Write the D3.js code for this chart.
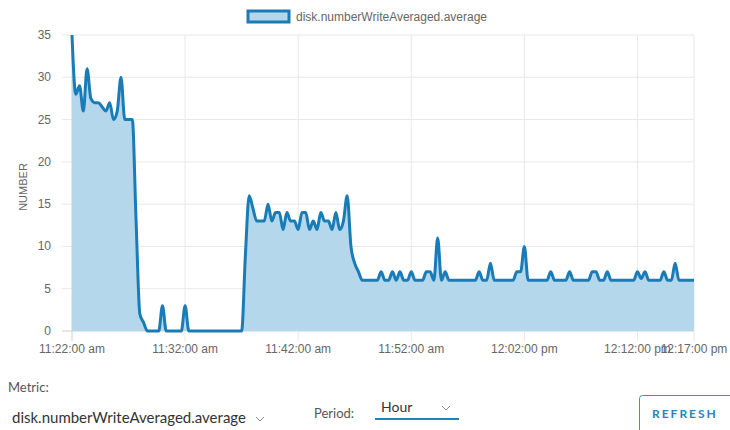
<!DOCTYPE html>
<meta charset="utf-8">
<style>
body{
  margin: 0;
  background-color: white;
}
text{
  font-family: "Liberation Sans", Arial, sans-serif;
}
.ui{
  font-family: "Lato", "Open Sans", sans-serif;
}
</style>
<body>
<svg class="chart"></svg>
<script src="https://cdn.jsdelivr.net/npm/d3@7"></script>
<script>
// series: one sample every 20 seconds from 11:22:00 to 12:17:00
var seriesName = "disk.numberWriteAveraged.average";
var startTime = new Date(2020, 0, 1, 11, 22, 0);
var endTime = new Date(2020, 0, 1, 12, 17, 0);
var stepSeconds = 20;

var values = [
  35, 28, 29, 26, 31, 27.5, 27, 27, 26.5, 26, 27, 25, 26, 30, 25, 25, 25, 13, 2, 1,
  0, 0, 0, 0, 3, 0, 0, 0, 0, 0, 3, 0, 0, 0, 0, 0, 0, 0, 0, 0,
  0, 0, 0, 0, 0, 0, 9, 16, 14.5, 13, 13, 13, 15, 13, 14, 14, 12, 14, 13, 13,
  12, 14, 14, 12, 13, 12, 14, 13, 13, 12, 14, 12, 13, 16, 10, 8, 7, 6, 6, 6,
  6, 6, 7, 6, 6, 7, 6, 7, 6, 6, 7, 6, 6, 6, 7, 7, 6, 11, 6, 7,
  6, 6, 6, 6, 6, 6, 6, 6, 7, 6, 6, 8, 6, 6, 6, 6, 6, 6, 7, 7,
  10, 6, 6, 6, 6, 6, 6, 7, 6, 6, 6, 6, 7, 6, 6, 6, 6, 6, 7, 7,
  6, 6, 7, 6, 6, 6, 6, 6, 6, 6, 7, 6.2, 7, 6, 6, 6, 6, 7, 6, 6,
  8, 6, 6, 6, 6, 6
];

// axis ticks
var yTicks = [0, 5, 10, 15, 20, 25, 30, 35];
var xTickTimes = [
  new Date(2020, 0, 1, 11, 22, 0),
  new Date(2020, 0, 1, 11, 32, 0),
  new Date(2020, 0, 1, 11, 42, 0),
  new Date(2020, 0, 1, 11, 52, 0),
  new Date(2020, 0, 1, 12, 2, 0),
  new Date(2020, 0, 1, 12, 12, 0),
  new Date(2020, 0, 1, 12, 17, 0)
];
var xTickLabels = ["11:22:00 am", "11:32:00 am", "11:42:00 am", "11:52:00 am",
  "12:02:00 pm", "12:12:00 pm", "12:17:00 pm"];

var data = values.map(function (v, i) {
  return {t: new Date(startTime.getTime() + i * stepSeconds * 1000), v: v};
});

var w = 730, h = 430;
var plotLeft = 72, plotRight = 694, plotTop = 35, plotBottom = 331;

var svg = d3.select('svg').attr('width', w).attr('height', h);

var x = d3.scaleTime().domain([startTime, endTime]).range([plotLeft, plotRight]);
var y = d3.scaleLinear().domain([0, 35]).range([plotBottom, plotTop]);

var lineColor = "#1a7cb6";
var fillColor = "#b4d7eb";
var gridColor = "#e8e8e8";
var textColor = "#666";

// grid lines
svg.append("g").selectAll("line")
  .data(yTicks)
  .enter()
  .append("line")
  .attr("x1", plotLeft - 10)
  .attr("x2", plotRight)
  .attr("y1", function (d) { return y(d); })
  .attr("y2", function (d) { return y(d); })
  .attr("stroke", function (d) { return d == 0 ? "#cfcfcf" : gridColor; });

svg.append("g").selectAll("line")
  .data(xTickTimes)
  .enter()
  .append("line")
  .attr("x1", function (d) { return x(d); })
  .attr("x2", function (d) { return x(d); })
  .attr("y1", plotTop)
  .attr("y2", plotBottom + 10)
  .attr("stroke", function (d, i) { return i == 0 ? "#cfcfcf" : gridColor; });

// area + line
var area = d3.area()
  .x(function (d) { return x(d.t); })
  .y0(y(0))
  .y1(function (d) { return y(d.v); })
  .curve(d3.curveMonotoneX);

var line = d3.line()
  .x(function (d) { return x(d.t); })
  .y(function (d) { return y(d.v); })
  .curve(d3.curveMonotoneX);

svg.append("path")
  .datum(data)
  .attr("d", area)
  .attr("fill", fillColor);

svg.append("path")
  .datum(data)
  .attr("d", line)
  .attr("fill", "none")
  .attr("stroke", lineColor)
  .attr("stroke-width", 3)
  .attr("stroke-linejoin", "round");

// y tick labels
svg.append("g").selectAll("text")
  .data(yTicks)
  .enter()
  .append("text")
  .attr("x", 51)
  .attr("y", function (d) { return y(d) + 4; })
  .attr("text-anchor", "end")
  .attr("font-size", "12px")
  .attr("fill", textColor)
  .text(function (d) { return d; });

// x tick labels
svg.append("g").selectAll("text")
  .data(xTickTimes)
  .enter()
  .append("text")
  .attr("x", function (d) { return x(d); })
  .attr("y", 353)
  .attr("text-anchor", "middle")
  .attr("font-size", "12px")
  .attr("fill", textColor)
  .text(function (d, i) { return xTickLabels[i]; });

// y axis title
svg.append("text")
  .attr("transform", "translate(27," + ((plotTop + plotBottom) / 2 + 4) + ") rotate(-90)")
  .attr("text-anchor", "middle")
  .attr("font-size", "11px")
  .attr("fill", textColor)
  .text("NUMBER");

// legend
svg.append("rect")
  .attr("x", 248)
  .attr("y", 11)
  .attr("width", 41)
  .attr("height", 11)
  .attr("fill", fillColor)
  .attr("stroke", lineColor)
  .attr("stroke-width", 3);
svg.append("text")
  .attr("x", 296)
  .attr("y", 21)
  .attr("font-size", "12px")
  .attr("fill", textColor)
  .text(seriesName);

// controls under the chart
function chevron (cx, cy) {
  svg.append("path")
    .attr("d", "M" + (cx - 4) + "," + (cy - 2) + "L" + cx + "," + (cy + 2) + "L" + (cx + 4) + "," + (cy - 2))
    .attr("fill", "none")
    .attr("stroke", "#8a8a8a")
    .attr("stroke-width", 1);
}

svg.append("text")
  .attr("class", "ui")
  .attr("x", 8)
  .attr("y", 392)
  .attr("font-size", "13px")
  .attr("fill", "#565656")
  .text("Metric:");

svg.append("text")
  .attr("class", "ui")
  .attr("x", 12)
  .attr("y", 423)
  .attr("font-size", "15px")
  .attr("fill", "#333")
  .text(seriesName);
chevron(260, 419);

svg.append("text")
  .attr("class", "ui")
  .attr("x", 314)
  .attr("y", 418)
  .attr("font-size", "13px")
  .attr("fill", "#565656")
  .text("Period:");

svg.append("text")
  .attr("class", "ui")
  .attr("x", 381)
  .attr("y", 412)
  .attr("font-size", "14px")
  .attr("fill", "#333")
  .text("Hour");
chevron(446, 408);

svg.append("line")
  .attr("x1", 375)
  .attr("x2", 459)
  .attr("y1", 419)
  .attr("y2", 419)
  .attr("stroke", "#1f84b4")
  .attr("stroke-width", 2);

svg.append("rect")
  .attr("x", 639.5)
  .attr("y", 395.5)
  .attr("width", 110)
  .attr("height", 50)
  .attr("rx", 3)
  .attr("fill", "white")
  .attr("stroke", "#3f8fbf")
  .attr("stroke-width", 1);

svg.append("text")
  .attr("class", "ui")
  .attr("x", 652)
  .attr("y", 418)
  .attr("font-size", "12px")
  .attr("font-weight", "bold")
  .attr("letter-spacing", "2px")
  .attr("fill", "#2a84bb")
  .text("REFRESH");
</script>
</body>
</html>
